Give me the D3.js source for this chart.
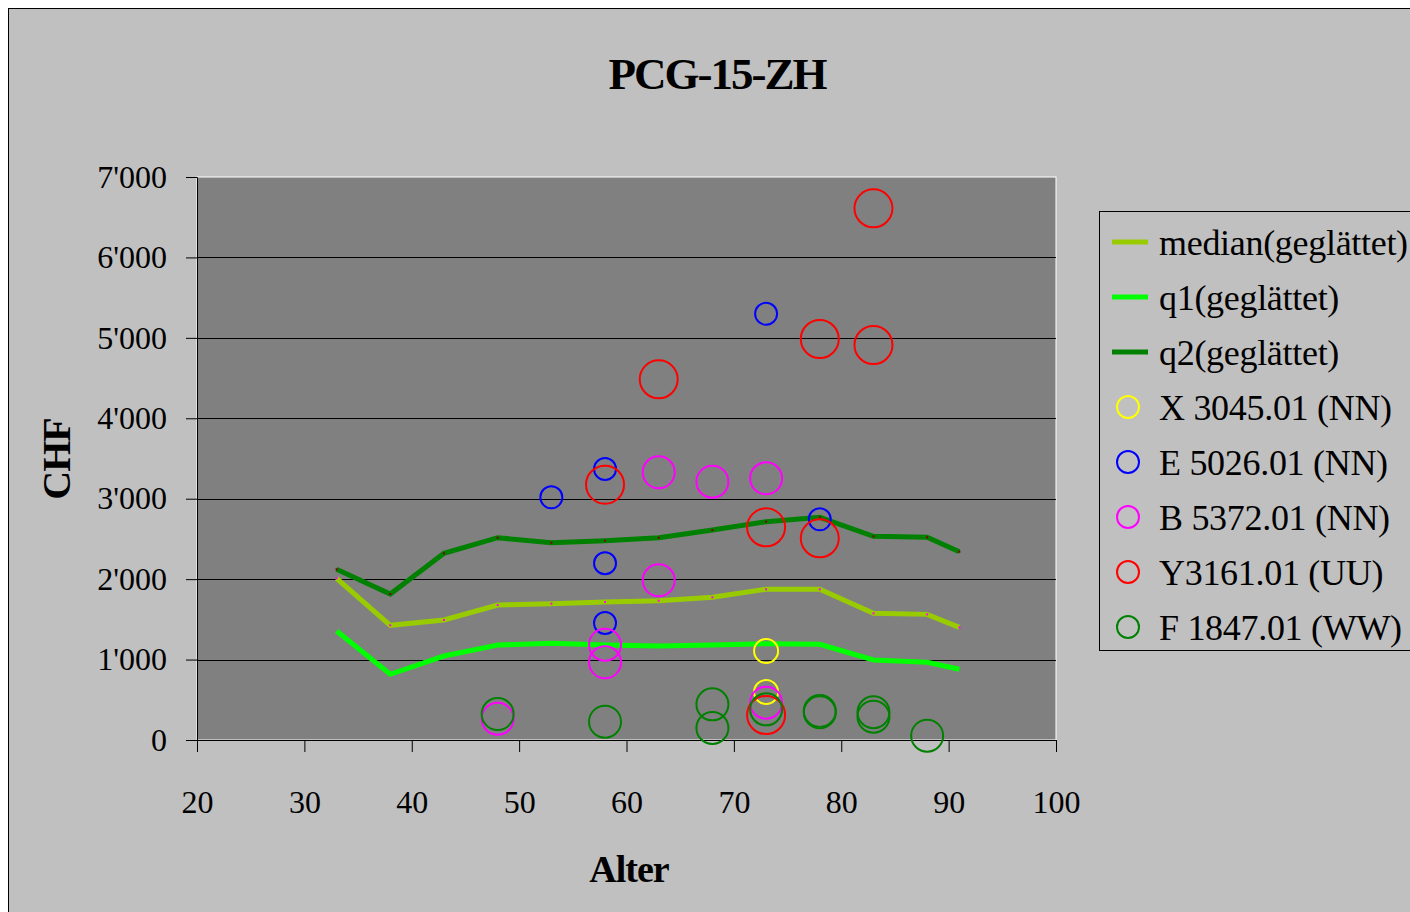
<!DOCTYPE html>
<html>
<head>
<meta charset="utf-8">
<script src="https://cdn.jsdelivr.net/npm/d3@7"></script>
<style>
  body { margin: 0; background: #fff; }
  svg { display: block; }
  text { font-family: "Liberation Serif", "DejaVu Serif", serif; fill: #000; }
</style>
</head>
<body>
<svg id="chart" width="1410" height="912"></svg>
<script>
// smoothed quantile lines (age -> CHF)
const ages = [33, 38, 43, 48, 53, 58, 63, 68, 73, 78, 83, 88, 91]
const medianVals = [2010, 1426, 1492, 1678, 1695, 1716, 1732, 1774, 1874, 1874, 1575, 1562, 1401]
const q1Vals = [1355, 817, 1044, 1181, 1202, 1181, 1169, 1181, 1198, 1190, 995, 966, 879]
const q2Vals = [2122, 1815, 2321, 2515, 2453, 2478, 2515, 2611, 2714, 2769, 2532, 2520, 2341]

// scatter series: [age, CHF]
const xPoints = [[73, 1107], [73, 597]]
const ePoints = [[53, 3017], [58, 3369], [58, 2197], [58, 1455], [73, 5300], [78, 2744]]
const bPoints = [[48, 265], [58, 1185], [58, 966], [63, 3328], [68, 3212], [73, 3254], [63, 1985], [73, 464]]
const yPoints = [[83, 6611], [78, 4986], [83, 4911], [63, 4485], [58, 3174], [73, 2644], [78, 2507], [73, 311]]
const fPoints = [[48, 323], [58, 228], [68, 443], [68, 149], [73, 381], [78, 361], [78, 345], [83, 345], [83, 290], [88, 54]]

const xTicks = [20, 30, 40, 50, 60, 70, 80, 90, 100]
const yTicks = [0, 1000, 2000, 3000, 4000, 5000, 6000, 7000]

const lineSeries = [
  { name: 'median(geglättet)', values: medianVals, color: '#99CC00', dot: '#FF00FF' },
  { name: 'q1(geglättet)', values: q1Vals, color: '#00FF00', dot: null },
  { name: 'q2(geglättet)', values: q2Vals, color: '#008000', dot: '#800000' }
]
const pointSeries = [
  { name: 'X 3045.01 (NN)', points: xPoints, color: '#FFFF00', r: 12 },
  { name: 'E 5026.01 (NN)', points: ePoints, color: '#0000FF', r: 11 },
  { name: 'B 5372.01 (NN)', points: bPoints, color: '#FF00FF', r: 16 },
  { name: 'Y3161.01 (UU)', points: yPoints, color: '#FF0000', r: 19 },
  { name: 'F 1847.01 (WW)', points: fPoints, color: '#008000', r: 16 }
]

const svg = d3.select('#chart')

// chart area
svg.append('rect')
  .attr('x', 8.5).attr('y', 8.5)
  .attr('width', 1500).attr('height', 1000)
  .attr('fill', '#C0C0C0')
  .attr('stroke', '#000')
  .attr('stroke-width', 1)

const x = d3.scaleLinear().domain([20, 100]).range([197, 1056])
const y = d3.scaleLinear().domain([0, 7000]).range([740, 177])

// plot area
svg.append('rect')
  .attr('x', x(20)).attr('y', y(7000))
  .attr('width', x(100) - x(20)).attr('height', y(0) - y(7000))
  .attr('fill', '#808080')
  .attr('stroke', '#fff')
  .attr('stroke-width', 1)

// gridlines
svg.append('g')
  .selectAll('line')
  .data(yTicks.filter(d => d > 0 && d < 7000))
  .join('line')
  .attr('x1', x(20)).attr('x2', x(100))
  .attr('y1', d => Math.round(y(d)) + 0.5).attr('y2', d => Math.round(y(d)) + 0.5)
  .attr('stroke', '#000')
  .attr('stroke-width', 1)

// axes
const fmt = d3.formatLocale({ decimal: '.', thousands: "'", grouping: [3], currency: ['', ''] }).format(',')

const yAxis = svg.append('g')
  .attr('transform', `translate(${x(20)},0)`)
  .call(d3.axisLeft(y).tickValues(yTicks).tickSize(11).tickPadding(19).tickFormat(fmt))
yAxis.select('.domain').attr('stroke', '#000')
yAxis.selectAll('.tick line').attr('stroke', '#000')
yAxis.selectAll('.tick text')
  .attr('font-family', '"Liberation Serif", serif')
  .attr('font-size', 32)
  .attr('fill', '#000')

const xAxis = svg.append('g')
  .attr('transform', `translate(0,${y(0)})`)
  .call(d3.axisBottom(x).tickValues(xTicks).tickSize(12).tickPadding(34).tickFormat(d3.format('d')))
xAxis.select('.domain').attr('stroke', '#000')
xAxis.selectAll('.tick line').attr('stroke', '#000')
xAxis.selectAll('.tick text')
  .attr('font-family', '"Liberation Serif", serif')
  .attr('font-size', 32)
  .attr('fill', '#000')
  .attr('dy', '0.35em')
  .attr('y', 62)

// lines
const line = d3.line()
  .x((d, i) => x(ages[i]))
  .y(d => y(d))

lineSeries.forEach(s => {
  svg.append('path')
    .datum(s.values)
    .attr('fill', 'none')
    .attr('stroke', s.color)
    .attr('stroke-width', 5)
    .attr('stroke-linejoin', 'miter')
    .attr('d', line)
  if (s.dot) {
    svg.append('g')
      .selectAll('rect')
      .data(s.values)
      .join('rect')
      .attr('x', (d, i) => x(ages[i]) - 1)
      .attr('y', d => y(d) - 1)
      .attr('width', 2).attr('height', 2)
      .attr('fill', s.dot)
  }
})

// scatter circles
pointSeries.forEach(s => {
  svg.append('g')
    .selectAll('circle')
    .data(s.points)
    .join('circle')
    .attr('cx', d => x(d[0]))
    .attr('cy', d => y(d[1]))
    .attr('r', s.r)
    .attr('fill', 'none')
    .attr('stroke', s.color)
    .attr('stroke-width', 2)
})

// titles
svg.append('text')
  .attr('x', 717).attr('y', 89)
  .attr('text-anchor', 'middle')
  .attr('font-size', 45)
  .attr('font-weight', 'bold')
  .attr('letter-spacing', -2)
  .text('PCG-15-ZH')

svg.append('text')
  .attr('x', 629).attr('y', 882)
  .attr('text-anchor', 'middle')
  .attr('font-size', 38)
  .attr('font-weight', 'bold')
  .attr('letter-spacing', -1)
  .text('Alter')

svg.append('text')
  .attr('transform', 'translate(70,459) rotate(-90)')
  .attr('text-anchor', 'middle')
  .attr('font-size', 40)
  .attr('font-weight', 'bold')
  .attr('letter-spacing', -1)
  .text('CHF')

// legend
const legend = svg.append('g')
legend.append('rect')
  .attr('x', 1099.5).attr('y', 211.5)
  .attr('width', 400).attr('height', 439)
  .attr('fill', '#C0C0C0')
  .attr('stroke', '#000')
  .attr('stroke-width', 1)

const entries = lineSeries.map(s => ({ ...s, kind: 'line' }))
  .concat(pointSeries.map(s => ({ ...s, kind: 'circle' })))

entries.forEach((s, i) => {
  const cy = 242 + i * 55
  const row = legend.append('g')
  if (s.kind === 'line') {
    row.append('line')
      .attr('x1', 1112).attr('x2', 1148)
      .attr('y1', cy).attr('y2', cy)
      .attr('stroke', s.color)
      .attr('stroke-width', 5)
  } else {
    row.append('circle')
      .attr('cx', 1128).attr('cy', cy)
      .attr('r', 11)
      .attr('fill', 'none')
      .attr('stroke', s.color)
      .attr('stroke-width', 2)
  }
  row.append('text')
    .attr('x', 1159).attr('y', cy)
    .attr('dy', '0.36em')
    .attr('font-size', 36)
    .attr('letter-spacing', -0.3)
    .text(s.name)
})
</script>
</body>
</html>
